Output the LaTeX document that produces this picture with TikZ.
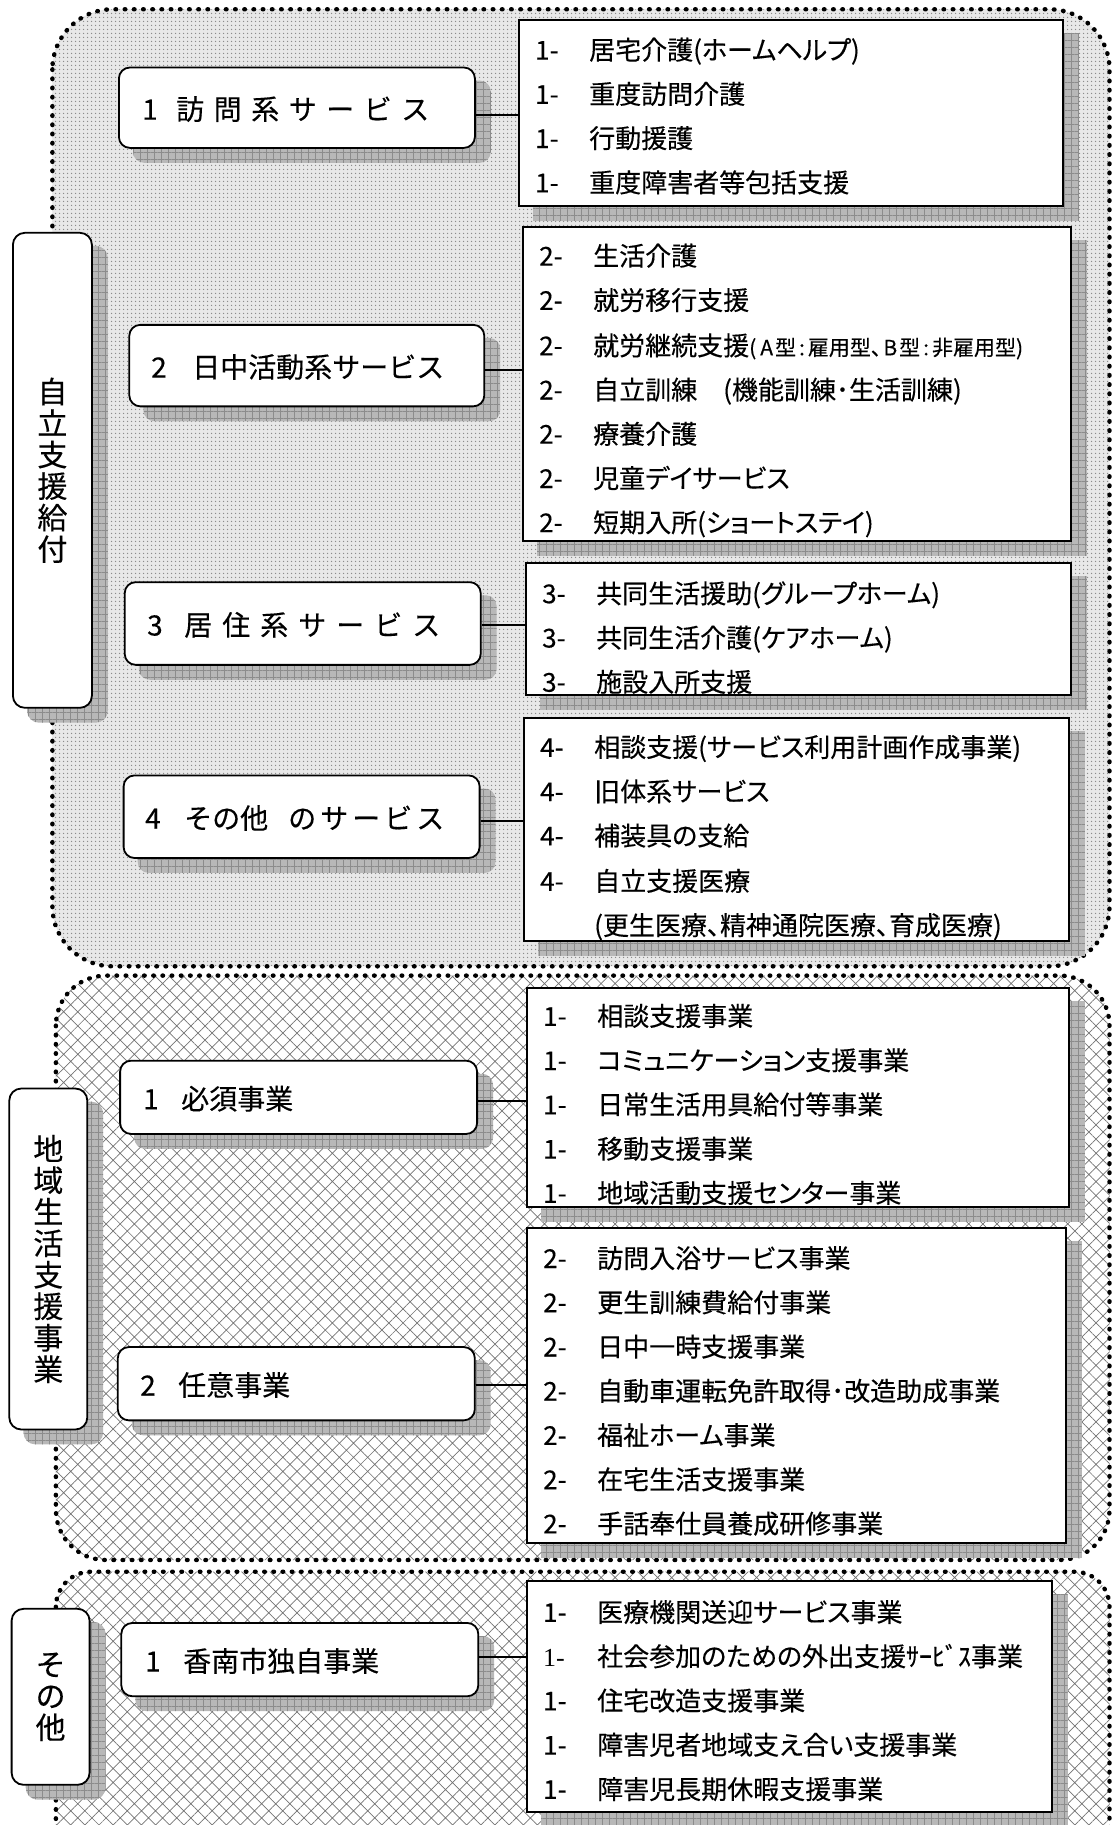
\documentclass[tikz,border=0pt]{standalone}
\usepackage{fontspec}
\setmainfont{Noto Sans CJK JP}
\newfontfamily\jpfont{Noto Sans CJK JP}[FakeBold=0.3]
\newfontfamily\jppfont{Noto Sans CJK JP}[RawFeature=+palt,FakeBold=0.3]
\newfontfamily\tnrfont{Liberation Serif}
\usetikzlibrary{patterns.meta}
\pgfdeclarelayer{grplayer}
\pgfdeclarelayer{shdlayer}
\pgfsetlayers{grplayer,shdlayer,main}
\tikzset{
  grpborder/.style={line width=4.4pt, dash pattern=on 0.6pt off 8.6pt, line cap=round},
  shadowfill/.style={fill=black!28, postaction={pattern={Hatch[angle=0,distance=7pt,line width=0.6pt]}, pattern color=black!45}},
  catbox/.style={draw, line width=1.8pt, fill=white, rounded corners=11pt, inner sep=0pt},
  lblbox/.style={draw, line width=1.8pt, fill=white, rounded corners=12pt, inner sep=0pt, align=center, font=\jpfont\fontsize{30}{31.5}\selectfont},
  itembox/.style={draw, line width=1.8pt, fill=white, inner sep=0pt},
  conn/.style={line width=1.4pt},
  cattxt/.style={font=\jpfont\fontsize{28}{28}\selectfont, anchor=base west, inner sep=0pt},
  itemtxt/.style={font=\jppfont\fontsize{26}{26}\selectfont, anchor=base west, inner sep=0pt},
}
\newcommand\itm[5]{%
  \node[itemtxt] (#1p) at (#2,#3+9.5) {#4};
  \node[itemtxt] (#1t) at (#2+54,#3+9.5) {#5};}
\newcommand\gapc{\hspace{9.5pt}}
\begin{document}
\begin{tikzpicture}[x=1pt,y=-1pt]
\useasboundingbox (0,0) rectangle (1113,1825);

% ---------- label boxes ----------
\node[lblbox, minimum width=79pt, minimum height=475pt] (L1) at (52.4,470.3) {自\\立\\支\\援\\給\\付};
\node[lblbox, minimum width=78pt, minimum height=341pt] (L2) at (48.3,1259) {地\\域\\生\\活\\支\\援\\事\\業};
\node[lblbox, minimum width=78pt, minimum height=176pt] (L3) at (50.6,1696.8) {そ\\の\\他};

% ---------- category boxes ----------
\node[catbox, minimum width=356pt, minimum height=80.4pt] (c1) at (296.9,107.7) {};
\node[catbox, minimum width=355pt, minimum height=81.5pt] (c2) at (306.8,365.6) {};
\node[catbox, minimum width=356pt, minimum height=82.7pt] (c3) at (302.7,623.5) {};
\node[catbox, minimum width=356pt, minimum height=82.6pt] (c4) at (301.6,816.7) {};
\node[catbox, minimum width=357pt, minimum height=73.3pt] (c5) at (298.6,1097.3) {};
\node[catbox, minimum width=357pt, minimum height=73.3pt] (c6) at (296.3,1383.7) {};
\node[catbox, minimum width=357pt, minimum height=73.3pt] (c7) at (299.8,1659.6) {};

\node[cattxt] (c1t) at (142,119.7) {1\hspace{18.5pt}訪\gapc 問\gapc 系\gapc サ\gapc ー\gapc ビ\gapc ス};
\node[cattxt] (c2t) at (151,377.6) {2\hspace{25.5pt}日中活動系サービス};
\node[cattxt] (c3t) at (147,635.5) {3\hspace{21.5pt}居\hspace{10pt}住\hspace{10pt}系\hspace{10pt}サ\hspace{10pt}ー\hspace{10pt}ビ\hspace{10pt}ス};
\node[cattxt] (c4t) at (145,828.7) {4\hspace{23.5pt}その他\hspace{20pt}の\hspace{4pt}サ\hspace{4pt}ー\hspace{4pt}ビ\hspace{4pt}ス};
\node[cattxt] (c5t) at (143,1109.3) {1\hspace{22.5pt}必須事業};
\node[cattxt] (c6t) at (140,1395.7) {2\hspace{22.5pt}任意事業};
\node[cattxt] (c7t) at (145,1671.6) {1\hspace{22.5pt}香南市独自事業};

% ---------- item boxes ----------
\node[itembox, minimum width=544pt, minimum height=186pt] (A) at (791,113) {};
\node[itembox, minimum width=548pt, minimum height=314pt] (B) at (797,384) {};
\node[itembox, minimum width=545pt, minimum height=132pt] (C) at (798.5,629) {};
\node[itembox, minimum width=545pt, minimum height=223pt] (D) at (796.5,829.5) {};
\node[itembox, minimum width=542pt, minimum height=219pt] (E) at (798,1097.5) {};
\node[itembox, minimum width=539pt, minimum height=315pt] (F) at (796.5,1385.5) {};
\node[itembox, minimum width=525pt, minimum height=231pt] (G) at (789.5,1696.5) {};

% items A
\itm{A1}{535}{50.1}{1-}{居宅介護(ホームヘルプ)}
\itm{A2}{535}{94.3}{1-}{重度訪問介護}
\itm{A3}{535}{138.5}{1-}{行動援護}
\itm{A4}{535}{182.8}{1-}{重度障害者等包括支援}
% items B
\itm{B1}{539}{256.1}{2-}{生活介護}
\itm{B2}{539}{300.4}{2-}{就労移行支援}
\itm{B3}{539}{345.8}{2-}{就労継続支援{\fontsize{21}{21}\selectfont(\hspace{4pt}A\hspace{2pt}型\hspace{3pt}:\hspace{3pt}雇用型、\hspace{2pt}B\hspace{2pt}型\hspace{3pt}:\hspace{3pt}非雇用型)}}
\itm{B4}{539}{390.0}{2-}{自立訓練　(機能訓練･生活訓練)}
\itm{B5}{539}{434.2}{2-}{療養介護}
\itm{B6}{539}{478.5}{2-}{児童デイサービス}
\itm{B7}{539}{522.7}{2-}{短期入所(ショートステイ)}
% items C
\itm{C1}{542}{593.7}{3-}{共同生活援助(グループホーム)}
\itm{C2}{542}{638.0}{3-}{共同生活介護(ケアホーム)}
\itm{C3}{542}{682.2}{3-}{施設入所支援}
% items D
\itm{D1}{540}{747.4}{4-}{相談支援(サービス利用計画作成事業)}
\itm{D2}{540}{791.7}{4-}{旧体系サービス}
\itm{D3}{540}{835.9}{4-}{補装具の支給}
\itm{D4}{540}{881.3}{4-}{自立支援医療}
\node[itemtxt] (D5t) at (594,935) {(更生医療、精神通院医療、育成医療)};
% items E
\itm{E1}{543}{1016.3}{1-}{相談支援事業}
\itm{E2}{543}{1060.6}{1-}{コミュニケーション支援事業}
\itm{E3}{543}{1104.8}{1-}{日常生活用具給付等事業}
\itm{E4}{543}{1149.1}{1-}{移動支援事業}
\itm{E5}{543}{1193.3}{1-}{地域活動支援センター事業}
% items F
\itm{F1}{543}{1258.5}{2-}{訪問入浴サービス事業}
\itm{F2}{543}{1302.7}{2-}{更生訓練費給付事業}
\itm{F3}{543}{1347.0}{2-}{日中一時支援事業}
\itm{F4}{543}{1391.2}{2-}{自動車運転免許取得･改造助成事業}
\itm{F5}{543}{1435.4}{2-}{福祉ホーム事業}
\itm{F6}{543}{1479.7}{2-}{在宅生活支援事業}
\itm{F7}{543}{1523.9}{2-}{手話奉仕員養成研修事業}
% items G
\itm{G1}{543}{1612.4}{1-}{医療機関送迎サービス事業}
\itm{G2}{543}{1656.6}{{\tnrfont 1-}}{社会参加のための外出支援ｻｰﾋﾞｽ事業}
\itm{G3}{543}{1700.9}{1-}{住宅改造支援事業}
\itm{G4}{543}{1745.1}{1-}{障害児者地域支え合い支援事業}
\itm{G5}{543}{1789.4}{1-}{障害児長期休暇支援事業}

% ---------- connectors ----------
\coordinate (k1) at (0,115);
\coordinate (k2) at (0,370);
\coordinate (k3) at (0,625);
\coordinate (k4) at (0,821);
\coordinate (k5) at (0,1101);
\coordinate (k6) at (0,1385);
\coordinate (k7) at (0,1657);
\draw[conn] (c1.east |- k1) -- (A.west |- k1);
\draw[conn] (c2.east |- k2) -- (B.west |- k2);
\draw[conn] (c3.east |- k3) -- (C.west |- k3);
\draw[conn] (c4.east |- k4) -- (D.west |- k4);
\draw[conn] (c5.east |- k5) -- (E.west |- k5);
\draw[conn] (c6.east |- k6) -- (F.west |- k6);
\draw[conn] (c7.east |- k7) -- (G.west |- k7);

% ---------- shadows ----------
\begin{pgfonlayer}{shdlayer}
\foreach \n/\r in {L1/12,L2/12,L3/12,c1/11,c2/11,c3/11,c4/11,c5/11,c6/11,c7/11,A/0,B/0,C/0,D/0,E/0,F/0,G/0}
  \fill[shadowfill, rounded corners=\r pt] ([shift={(15,14)}]\n.south west) rectangle ([shift={(15,14)}]\n.north east);
\end{pgfonlayer}

% ---------- groups ----------
\begin{pgfonlayer}{grplayer}
\fill[black!9, rounded corners=60pt] (52.4,9.3) rectangle (1109.5,966.3);
\fill[pattern={Dots[distance=4pt,radius=0.9pt]}, pattern color=black!45, rounded corners=60pt] (52.4,9.3) rectangle (1109.5,966.3);
\draw[grpborder, rounded corners=60pt] (52.4,9.3) rectangle (1109.5,966.3);
\fill[pattern={Hatch[angle=45,distance=10pt,line width=0.7pt]}, pattern color=black!55, rounded corners=50pt] (55.9,975.6) rectangle (1109.5,1560);
\draw[grpborder, rounded corners=50pt] (55.9,975.6) rectangle (1109.5,1560);
\fill[pattern={Hatch[angle=45,distance=10pt,line width=0.7pt]}, pattern color=black!55, rounded corners=35pt] (55.9,1571.7) rectangle (1109.5,1900);
\draw[grpborder, rounded corners=35pt] (55.9,1571.7) rectangle (1109.5,1900);
\end{pgfonlayer}
\end{tikzpicture}
\end{document}
